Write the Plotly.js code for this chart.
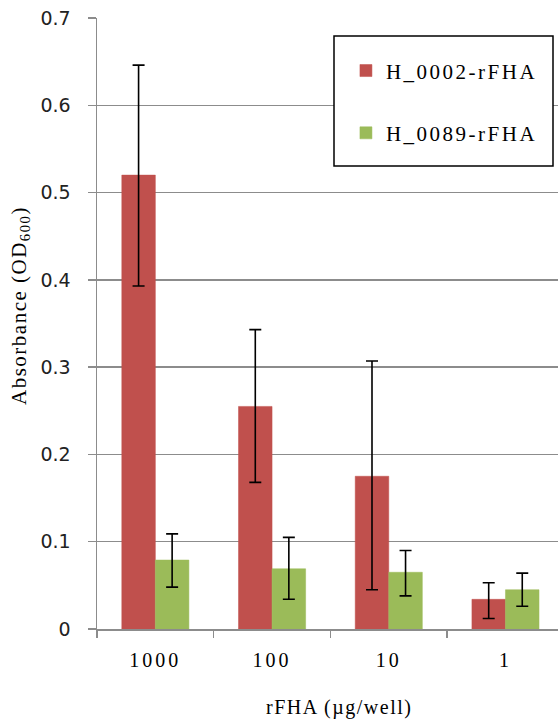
<!DOCTYPE html>
<html>
<head>
<meta charset="utf-8">
<script src="https://cdn.plot.ly/plotly-3.0.1.min.js"></script>
<style>
html,body{margin:0;padding:0;background:#fff;}
#chart{width:558px;height:727px;}
.legendtext{letter-spacing:2.5px;}
.xtick text{letter-spacing:3px;}
.annotation-text{letter-spacing:1.5px;}
</style>
</head>
<body>
<div id="chart"></div>
<script>
var categories = ["1000", "100", "10", "1"];
var seriesNames = ["H_0002-rFHA", "H_0089-rFHA"];
var h0002 = [0.520, 0.255, 0.175, 0.034];
var h0002Upper = [0.646, 0.343, 0.307, 0.053];
var h0002Lower = [0.393, 0.168, 0.045, 0.012];
var h0089 = [0.079, 0.069, 0.065, 0.045];
var h0089Upper = [0.109, 0.105, 0.090, 0.064];
var h0089Lower = [0.048, 0.034, 0.038, 0.026];
var xTitle = "rFHA (µg/well)";
var yTitle = "Absorbance (OD<sub>600</sub>)";
var colors = ["#C0504D", "#9BBB59"];

function plus(v, u){ return v.map(function(x,i){ return u[i]-x; }); }
function minus(v, l){ return v.map(function(x,i){ return x-l[i]; }); }

var serifFont = "'Liberation Serif', 'Times New Roman', serif";

function makeTrace(name, vals, up, lo, color, grp){
  return {
    type: "bar", name: name, x: categories, y: vals,
    marker: {color: color, line: {color: color, width: 0.5}},
    legendgroup: grp,
    error_y: {type: "data", symmetric: false, array: plus(vals, up), arrayminus: minus(vals, lo),
              color: "#000000", thickness: 1.6, width: 6},
    hoverinfo: "none"
  };
}

var data = [
  makeTrace(seriesNames[0], h0002, h0002Upper, h0002Lower, colors[0], "a"),
  makeTrace(seriesNames[1], h0089, h0089Upper, h0089Lower, colors[1], "b")
];

var layout = {
  width: 558, height: 727,
  margin: {l: 97, r: 0, t: 18, b: 98, pad: 0},
  paper_bgcolor: "#ffffff", plot_bgcolor: "#ffffff",
  barmode: "group", bargap: 0.425, bargroupgap: 0,
  showlegend: true,
  font: {family: serifFont, color: "#000000"},
  xaxis: {
    type: "category", range: [-0.5, 3.45],
    tickson: "boundaries", ticks: "outside", ticklen: 7, tickwidth: 1.5, tickcolor: "#8c8c8c",
    showline: true, linecolor: "#8c8c8c", linewidth: 1.5,
    showgrid: false, zeroline: false,
    tickfont: {family: serifFont, size: 20, color: "#000"},
    ticklabelstandoff: 12
  },
  yaxis: {
    range: [0, 0.7], dtick: 0.1, tick0: 0,
    ticks: "outside", ticklen: 8, tickwidth: 1.5, tickcolor: "#8c8c8c",
    showline: true, linecolor: "#8c8c8c", linewidth: 1.5,
    showgrid: true, gridcolor: "#8c8c8c", gridwidth: 1.5,
    zeroline: false,
    tickfont: {family: "'DejaVu Sans', sans-serif", size: 19, color: "#222"},
    ticklabelstandoff: 13
  },
  legend: {
    x: 0.54, y: 0.947, xanchor: "left", yanchor: "top",
    bgcolor: "rgba(0,0,0,0)", borderwidth: 0,
    font: {family: serifFont, size: 21, color: "#000"},
    traceorder: "grouped", tracegroupgap: 32,
    itemclick: false
  },
  annotations: [
    {text: xTitle, xref: "paper", yref: "paper", x: (339-97)/461, y: (629-707)/611,
     xanchor: "center", yanchor: "middle", showarrow: false,
     font: {family: serifFont, size: 20, color: "#000"}},
    {text: yTitle, xref: "paper", yref: "paper", x: (20-97)/461, y: (629-306)/611,
     xanchor: "center", yanchor: "middle", showarrow: false, textangle: -90,
     font: {family: serifFont, size: 21, color: "#000"}}
  ],
  shapes: [{
    type: "rect", xref: "paper", yref: "paper",
    x0: (334-97)/461, x1: (553-97)/461,
    y0: (629-166)/611, y1: (629-36)/611,
    line: {color: "#000000", width: 1.5}, fillcolor: "#ffffff", layer: "above"
  }]
};

Plotly.newPlot("chart", data, layout, {displayModeBar: false, staticPlot: true});
</script>
</body>
</html>
